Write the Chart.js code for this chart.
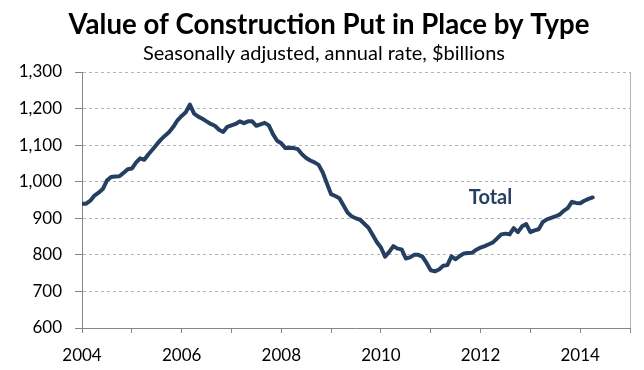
<!DOCTYPE html>
<html>
<head>
<meta charset="utf-8">
<script src="https://cdn.jsdelivr.net/npm/chart.js@4.4.1/dist/chart.umd.min.js"></script>
<style>
  html, body { margin: 0; padding: 0; background: #fff; }
</style>
</head>
<body>
<canvas id="chart" width="644" height="370"></canvas>
<script>
const chartTitle = 'Value of Construction Put in Place by Type';
const chartSubtitle = 'Seasonally adjusted, annual rate, $billions';
const seriesName = 'Total';

// monthly values, Jan 2004 .. Apr 2014
const startYear = 2004;
const totalValues = [
  940, 940, 948, 962, 970, 980, 1003, 1013, 1014, 1015,
  1024, 1034, 1036, 1052, 1064, 1060, 1075, 1088, 1102, 1115,
  1126, 1136, 1150, 1168, 1180, 1190, 1211, 1186, 1178, 1172,
  1165, 1158, 1153, 1142, 1136, 1150, 1154, 1158, 1165, 1160,
  1165, 1165, 1153, 1157, 1161, 1154, 1130, 1112, 1105, 1092,
  1093, 1092, 1089, 1075, 1065, 1058, 1053, 1046, 1025, 995,
  966, 961, 955, 935, 915, 905, 900, 896, 885, 874,
  855, 835, 820, 795, 808, 824, 817, 815, 790, 793,
  800, 800, 795, 778, 758, 755, 760, 770, 772, 796,
  788, 797, 804, 805, 806, 814, 820, 824, 829, 834,
  845, 856, 858, 856, 873, 862, 878, 884, 862, 867,
  870, 890, 897, 901, 905, 910, 920, 928, 945, 942,
  941, 948, 953, 957
];

const xRange = [2004, 2015];
const xLabelYears = [2004, 2006, 2008, 2010, 2012, 2014];
const yRange = [600, 1300];
const yStep = 100;
const seriesLabelAt = { x: 2012.2, y: 957 };

const lineColor = '#243f60';
const axisColor = '#868686';
const gridColor = '#b4b4b4';
const font = 'Lato';

const points = totalValues.map((v, i) => ({ x: startYear + i / 12, y: v }));

const titlePlugin = {
  id: 'titles',
  afterDraw(chart) {
    const ctx = chart.ctx;
    ctx.save();
    ctx.fillStyle = '#000';
    ctx.textAlign = 'center';
    ctx.textBaseline = 'alphabetic';
    ctx.font = 'bold 28px ' + font;
    ctx.fillText(chartTitle, 329, 34, 521);
    ctx.font = '20px ' + font;
    ctx.fillText(chartSubtitle, 324, 60, 372);

    // series label
    const xs = chart.scales.x, ys = chart.scales.y;
    ctx.fillStyle = lineColor;
    ctx.font = 'bold 20px ' + font;
    ctx.textBaseline = 'middle';
    ctx.fillText(seriesName, xs.getPixelForValue(seriesLabelAt.x), ys.getPixelForValue(seriesLabelAt.y));
    ctx.restore();
  }
};

new Chart(document.getElementById('chart').getContext('2d'), {
  type: 'line',
  data: {
    datasets: [{
      label: seriesName,
      data: points,
      borderColor: lineColor,
      borderWidth: 4,
      pointRadius: 0,
      tension: 0,
      borderJoinStyle: 'round',
      borderCapStyle: 'round'
    }]
  },
  options: {
    responsive: false,
    animation: false,
    layout: { padding: { top: 72, right: 14, left: 0, bottom: 0 } },
    plugins: {
      legend: { display: false },
      tooltip: { enabled: false },
      title: { display: false }
    },
    scales: {
      x: {
        type: 'linear',
        min: xRange[0],
        max: xRange[1],
        afterFit: s => { s.height = 42; },
        border: { color: axisColor, width: 1 },
        grid: {
          drawOnChartArea: true,
          color: c => (c.tick && c.tick.value === xRange[1]) ? gridColor : 'rgba(0,0,0,0)',
          tickColor: axisColor,
          tickLength: 5
        },
        ticks: {
          stepSize: 1,
          autoSkip: false,
          maxRotation: 0,
          padding: 12,
          color: '#000',
          font: { family: font, size: 17 },
          callback: v => xLabelYears.includes(v) ? String(v) : ''
        }
      },
      y: {
        min: yRange[0],
        max: yRange[1],
        afterFit: s => { s.width = 82; },
        border: { color: axisColor, width: 1, dash: [3, 3] },
        grid: {
          color: gridColor,
          tickColor: axisColor,
          tickLength: 7,
          tickBorderDash: []
        },
        ticks: {
          stepSize: yStep,
          padding: 13,
          color: '#000',
          font: { family: font, size: 17 },
          callback: v => v.toLocaleString('en-US')
        }
      }
    }
  },
  plugins: [titlePlugin]
});
</script>
</body>
</html>
